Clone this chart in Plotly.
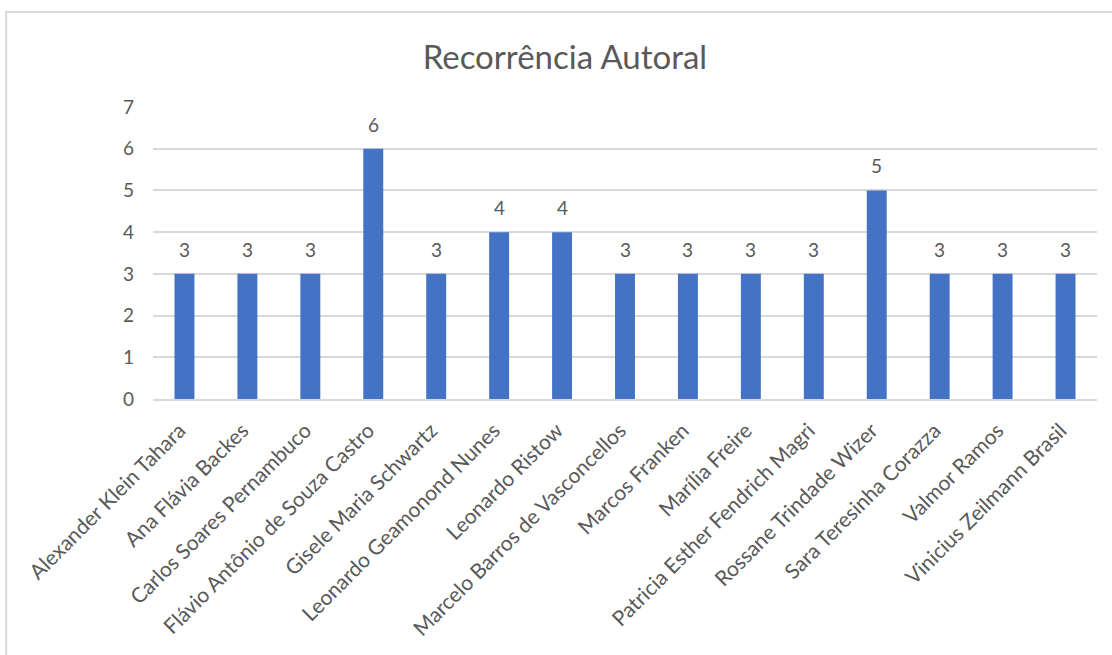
import plotly.graph_objects as go

authors = [
    "Alexander Klein Tahara",
    "Ana Flávia Backes",
    "Carlos Soares Pernambuco",
    "Flávio Antônio de Souza Castro",
    "Gisele Maria Schwartz",
    "Leonardo Geamonond Nunes",
    "Leonardo Ristow",
    "Marcelo Barros de Vasconcellos",
    "Marcos Franken",
    "Marília Freire",
    "Patricia Esther Fendrich Magri",
    "Rossane Trindade Wizer",
    "Sara Teresinha Corazza",
    "Valmor Ramos",
    "Vinicius Zeilmann Brasil",
]
counts = [3, 3, 3, 6, 3, 4, 4, 3, 3, 3, 3, 5, 3, 3, 3]
y_ticks = [0, 1, 2, 3, 4, 5, 6, 7]

FONT = "Lato"
GREY = "#595959"

fig = go.Figure(
    go.Bar(
        x=authors,
        y=counts,
        marker=dict(color="#4472C4", line=dict(width=0)),
    )
)

annotations = [
    dict(
        x=a,
        y=c,
        xref="x",
        yref="y",
        text=str(c),
        showarrow=False,
        yanchor="bottom",
        yshift=11,
        font=dict(family=FONT, size=19, color=GREY),
    )
    for a, c in zip(authors, counts)
]

fig.update_layout(
    width=1112,
    height=655,
    margin=dict(l=153, r=15, t=107, b=256),
    paper_bgcolor="white",
    plot_bgcolor="white",
    bargap=0.683,
    showlegend=False,
    annotations=annotations,
    title=dict(
        text="Recorrência Autoral",
        x=0.508,
        xanchor="center",
        y=0.913,
        yanchor="middle",
        font=dict(family=FONT, size=33, color=GREY),
    ),
    font=dict(family=FONT, color=GREY),
    xaxis=dict(
        tickangle=-45,
        tickfont=dict(family=FONT, size=21, color=GREY),
        showgrid=False,
        showline=True,
        linecolor="#d9d9d9",
        linewidth=2,
        ticks="",
        ticklabelshift=-5,
        ticklabelstandoff=9,
    ),
    yaxis=dict(
        range=[0, 7],
        tickvals=y_ticks,
        tickfont=dict(family=FONT, size=19, color=GREY),
        showgrid=True,
        gridcolor="#d9d9d9",
        gridwidth=2,
        zeroline=False,
        showline=False,
        ticks="",
        ticklabelstandoff=18,
    ),
    shapes=[
        dict(
            type="rect",
            xref="paper",
            yref="paper",
            x0=-0.1556,
            x1=1.2,
            y0=-1.5,
            y1=1.325,
            line=dict(color="#d9d9d9", width=2),
            fillcolor="rgba(0,0,0,0)",
            layer="below",
        )
    ],
)

fig.write_html("out.html")
